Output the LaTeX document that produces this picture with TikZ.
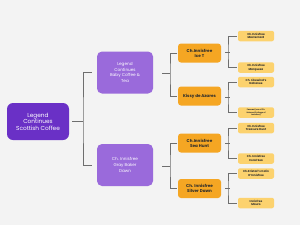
\documentclass[tikz,border=0pt]{standalone}
\usepackage{fontspec}
\setmainfont{Poppins}
\definecolor{bgc}{HTML}{F3F3F3}
\definecolor{rootc}{HTML}{6A30C6}
\definecolor{lonec}{HTML}{9A6ADB}
\definecolor{ltwoc}{HTML}{F5A623}
\definecolor{lthreec}{HTML}{FCD26E}
\definecolor{linec}{HTML}{6E6E6E}
\definecolor{txtc}{HTML}{2B2B2B}
\tikzset{
  rootbox/.style={fill=rootc,rounded corners=6pt,minimum width=62pt,minimum height=37pt,inner sep=0pt,align=center,text=white,font=\fontsize{5.8}{6.6}\selectfont},
  onebox/.style={fill=lonec,rounded corners=5pt,minimum width=56pt,minimum height=42pt,inner sep=0pt,align=center,text=white,font=\fontsize{4.2}{5.8}\selectfont},
  twobox/.style={fill=ltwoc,rounded corners=3pt,minimum width=43pt,minimum height=19pt,inner sep=0pt,align=center,text=txtc,font=\bfseries\fontsize{4.1}{5.2}\selectfont},
  threebox/.style={fill=lthreec,rounded corners=2pt,minimum width=36pt,minimum height=10.5pt,inner sep=0pt,align=center,text=txtc,font=\bfseries\fontsize{2.8}{3.7}\selectfont},
  conn/.style={draw=linec,line width=0.65pt},
}
\begin{document}
\begin{tikzpicture}[x=1pt,y=-1pt]
\fill[bgc] (0,0) rectangle (300,225);
\useasboundingbox (0,0) rectangle (300,225);
% nodes
\node[rootbox] (root) at (38,121.5) {Legend\\Continues\\Scottish Coffee};
\node[onebox] (a) at (125,72.5) {Legend\\Continues\\Baby Coffee \&\\Tea};
\node[onebox] (b) at (125,165) {Ch. Innisfree\\Gray Baker\\Dawn};
\node[twobox] (a1) at (199.5,53) {Ch.Innisfree\\Ice T};
\node[twobox] (a2) at (199.5,96) {Kissy de Azares};
\node[twobox] (b1) at (199.5,143) {Ch.Innisfree\\Sea Hunt};
\node[twobox] (b2) at (199.5,188.5) {Ch. Innisfree\\Silver Dawn};
\node[threebox] (a11) at (256,36) {Ch.Innisfree\\Mastercard};
\node[threebox] (a12) at (256,67.5) {Ch.Innisfree\\Marquesa};
\node[threebox] (a21) at (256,82) {Ch. Likewind's\\Nahanee};
\node[threebox,font=\bfseries\fontsize{1.9}{2.5}\selectfont] (a22) at (256,112.5) {Fanaan (son of Ch.\\Selamat Cottage of\\Innisfree)};
\node[threebox] (b11) at (256,128) {Ch.Innisfree\\Treasure Hunt};
\node[threebox] (b12) at (256,158.5) {Ch. Innisfree\\Coral Sea};
\node[threebox] (b21) at (256,173.5) {Ch.Kristari's Colin\\O'Innisfree};
\node[threebox] (b22) at (256,203) {Innisfree\\Mauro};
% junctions
\coordinate (j0) at (83,121.5);
\coordinate (ja) at (170,73);
\coordinate (jb) at (170,166);
\coordinate (ja1) at (228,52);
\coordinate (ja2) at (228,97);
\coordinate (jb1) at (228,143);
\coordinate (jb2) at (228,188);
% connectors
\draw[conn] ([xshift=3pt]root.east) -- (j0);
\draw[conn] ([xshift=-5pt]a.west) -| (j0) |- ([xshift=-5pt]b.west);
\draw[conn] ([xshift=9pt]a.east |- ja) -- (ja);
\draw[conn] ([xshift=-0.5pt]a1.west) -| (ja) |- ([xshift=-0.5pt]a2.west);
\draw[conn] ([xshift=9pt]b.east |- jb) -- (jb);
\draw[conn] ([xshift=-0.5pt]b1.west) -| (jb) |- ([xshift=-0.5pt]b2.west);
\draw[conn] ([xshift=4pt]a1.east |- ja1) -- ([xshift=2pt]ja1);
\draw[conn] ([xshift=-1pt]a11.west) -| (ja1) |- ([xshift=-1pt]a12.west);
\draw[conn] ([xshift=4pt]a2.east |- ja2) -- ([xshift=2pt]ja2);
\draw[conn] ([xshift=-1pt]a21.west) -| (ja2) |- ([xshift=-1pt]a22.west);
\draw[conn] ([xshift=4pt]b1.east |- jb1) -- ([xshift=2pt]jb1);
\draw[conn] ([xshift=-1pt]b11.west) -| (jb1) |- ([xshift=-1pt]b12.west);
\draw[conn] ([xshift=4pt]b2.east |- jb2) -- ([xshift=2pt]jb2);
\draw[conn] ([xshift=-1pt]b21.west) -| (jb2) |- ([xshift=-1pt]b22.west);
\end{tikzpicture}
\end{document}
